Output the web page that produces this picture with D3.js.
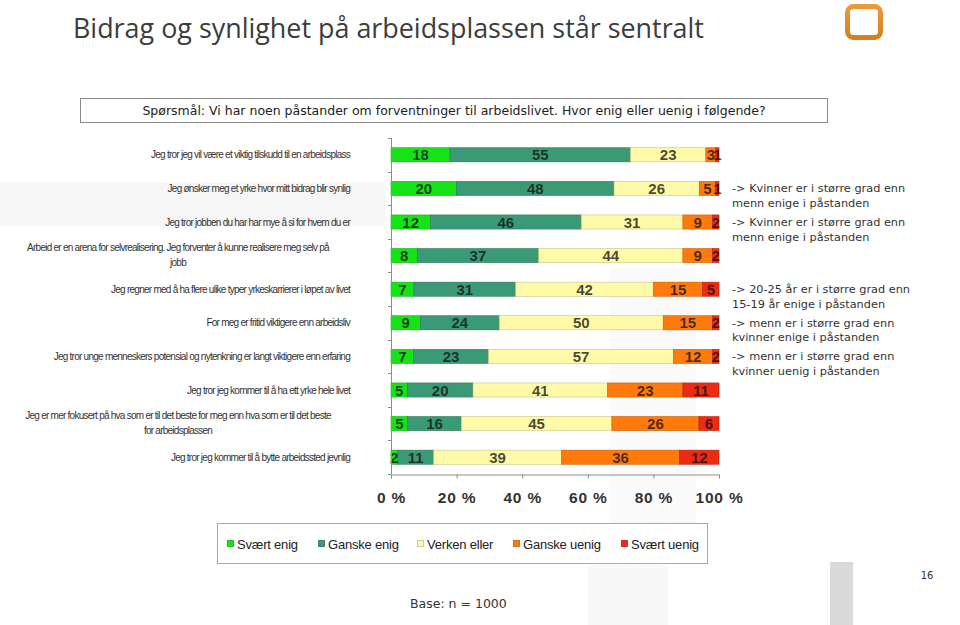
<!DOCTYPE html>
<html>
<head>
<meta charset="utf-8">
<script src="https://cdn.jsdelivr.net/npm/d3@7/dist/d3.min.js"></script>
<style>
  html, body { margin: 0; padding: 0; background: #fff; }
  svg { display: block; }
</style>
</head>
<body>
<svg id="chart" width="960" height="625"></svg>
<script>
// ---------- DATA ----------
const categories = [
  "Jeg tror jeg vil være et viktig tilskudd til en arbeidsplass",
  "Jeg ønsker meg et yrke hvor mitt bidrag blir synlig",
  "Jeg tror jobben du har har mye å si for hvem du er",
  "Arbeid er en arena for selvrealisering. Jeg forventer å kunne realisere meg selv på\njobb",
  "Jeg regner med å ha flere ulike typer yrkeskarrierer i løpet av livet",
  "For meg er fritid viktigere enn arbeidsliv",
  "Jeg tror unge menneskers potensial og nytenkning er langt viktigere enn erfaring",
  "Jeg tror jeg kommer til å ha ett yrke hele livet",
  "Jeg er mer fokusert på hva som er til det beste for meg enn hva som er til det beste\nfor arbeidsplassen",
  "Jeg tror jeg kommer til å bytte arbeidssted jevnlig"
];
const seriesNames = ["Svært enig", "Ganske enig", "Verken eller", "Ganske uenig", "Svært uenig"];
const svaertEnig  = [18, 20, 12,  8,  7,  9,  7,  5,  5,  2];
const ganskeEnig  = [55, 48, 46, 37, 31, 24, 23, 20, 16, 11];
const verkenEller = [23, 26, 31, 44, 42, 50, 57, 41, 45, 39];
const ganskeUenig = [ 3,  5,  9,  9, 15, 15, 12, 23, 26, 36];
const svaertUenig = [ 1,  1,  2,  2,  5,  2,  2, 11,  6, 12];
const xTickValues = [0, 20, 40, 60, 80, 100];
const annotations = [
  { row: 1, lines: ["-> Kvinner er i større grad enn", "menn enige i påstanden"] },
  { row: 2, lines: ["-> Kvinner er i større grad enn", "menn enige i påstanden"] },
  { row: 4, lines: ["-> 20-25 år er i større grad enn", "15-19 år enige i påstanden"] },
  { row: 5, lines: ["-> menn er i større grad enn", "kvinner enige i påstanden"] },
  { row: 6, lines: ["-> menn er i større grad enn", "kvinner uenig i påstanden"] }
];
const titleText = "Bidrag og synlighet på arbeidsplassen står sentralt";
const questionText = "Spørsmål: Vi har noen påstander om forventninger til arbeidslivet. Hvor enig eller uenig i følgende?";
const baseText = "Base: n = 1000";
const pageNumber = "16";

// ---------- STYLE ----------
const colors = ["#16e316", "#3a9a76", "#fffaa8", "#ff7a0a", "#ee2a12"];
const seriesData = [svaertEnig, ganskeEnig, verkenEller, ganskeUenig, svaertUenig];

const svg = d3.select("#chart");

// faint slide background shapes
svg.append("rect").attr("x", 0).attr("y", 182).attr("width", 385).attr("height", 44).attr("fill", "#f6f6f6");
svg.append("rect").attr("x", 610).attr("y", 268).attr("width", 86).attr("height", 295).attr("fill", "#fafafa");
svg.append("rect").attr("x", 588).attr("y", 565).attr("width", 80).attr("height", 60).attr("fill", "#f7f7f7");
svg.append("rect").attr("x", 830).attr("y", 562).attr("width", 23).attr("height", 63).attr("fill", "#dadada");

// title
svg.append("text")
  .attr("x", 73).attr("y", 38)
  .attr("font-family", "'Open Sans', 'DejaVu Sans', sans-serif")
  .attr("font-size", 26.9)
  .attr("fill", "#3c3c3c")
  .text(titleText);

// logo
const lg = svg.append("defs").append("linearGradient").attr("id", "logoGrad")
  .attr("x1", 0).attr("y1", 0).attr("x2", 0).attr("y2", 1);
lg.append("stop").attr("offset", "0%").attr("stop-color", "#e89a3c");
lg.append("stop").attr("offset", "100%").attr("stop-color", "#d57f22");
svg.append("rect")
  .attr("x", 847.5).attr("y", 6.5).attr("width", 33).attr("height", 31).attr("rx", 6)
  .attr("fill", "none").attr("stroke", "url(#logoGrad)").attr("stroke-width", 5);

// question box
svg.append("rect")
  .attr("x", 80.5).attr("y", 98.5).attr("width", 747).attr("height", 24)
  .attr("fill", "#fff").attr("stroke", "#8a8a8a").attr("stroke-width", 1);
svg.append("text")
  .attr("x", 454).attr("y", 115)
  .attr("text-anchor", "middle")
  .attr("font-family", "'DejaVu Sans', sans-serif")
  .attr("font-size", 12.5)
  .attr("fill", "#222")
  .text(questionText);

// ---------- CHART ----------
const x = d3.scaleLinear().domain([0, 100]).range([391, 719]);
const y = d3.scaleBand().domain(d3.range(categories.length)).range([138, 474]).paddingInner(0.58).paddingOuter(0.29);

const rows = categories.map((c, i) => {
  const vals = seriesData.map(s => s[i]);
  const total = d3.sum(vals);
  let acc = 0;
  return vals.map((v, k) => {
    const seg = { row: i, k, v, x0: acc / total * 100, x1: (acc + v) / total * 100 };
    acc += v;
    return seg;
  });
});

const g = svg.append("g");
rows.forEach(segs => {
  segs.forEach(s => {
    g.append("rect")
      .attr("x", x(s.x0))
      .attr("y", y(s.row))
      .attr("width", Math.max(0, x(s.x1) - x(s.x0)))
      .attr("height", y.bandwidth())
      .attr("fill", colors[s.k])
      .attr("stroke", d3.color(colors[s.k]).darker(0.7))
      .attr("stroke-width", 0.6);
  });
});
rows.forEach(segs => {
  segs.forEach(s => {
    g.append("text")
      .attr("x", (x(s.x0) + x(s.x1)) / 2)
      .attr("y", y(s.row) + y.bandwidth() / 2 + 5.5)
      .attr("text-anchor", "middle")
      .attr("font-family", "'Liberation Sans', Arial, sans-serif")
      .attr("font-weight", "bold")
      .attr("font-size", 15)
      .attr("fill", "rgba(20,20,20,0.78)")
      .text(s.v);
  });
});

// y axis line + ticks at band boundaries
const axisColor = "#8c8c8c";
svg.append("line").attr("x1", 391.5).attr("x2", 391.5).attr("y1", 138).attr("y2", 474)
  .attr("stroke", axisColor).attr("stroke-width", 1);
d3.range(categories.length + 1).forEach(i => {
  const yy = Math.round(138 + i * (474 - 138) / categories.length) + 0.5;
  svg.append("line").attr("x1", 388).attr("x2", 391.5).attr("y1", yy).attr("y2", yy)
    .attr("stroke", axisColor).attr("stroke-width", 1);
});

// x axis
const xAxis = d3.axisBottom(x).tickValues(xTickValues).tickSize(4).tickFormat(d => d + " %");
const xg = svg.append("g").attr("transform", "translate(0,474.5)").call(xAxis);
xg.select(".domain").attr("stroke", axisColor);
xg.selectAll(".tick line").attr("stroke", axisColor);
xg.selectAll(".tick text")
  .attr("y", 17)
  .attr("dy", "0.71em")
  .attr("font-family", "'Liberation Sans', Arial, sans-serif")
  .attr("font-weight", "bold")
  .attr("font-size", 15.5)
  .attr("letter-spacing", "0.8px")
  .attr("fill", "#333");

// category labels
categories.forEach((c, i) => {
  const lines = c.split("\n");
  const cy = y(i) + y.bandwidth() / 2;
  const t = svg.append("text")
    .attr("font-family", "'Liberation Sans', Arial, sans-serif")
    .attr("font-size", 10)
    .attr("letter-spacing", "-0.75px")
    .attr("fill", "#333");
  if (lines.length === 1) {
    t.attr("x", 350).attr("y", cy + 3.5).attr("text-anchor", "end").text(c);
  } else {
    t.attr("text-anchor", "middle");
    lines.forEach((l, j) => {
      t.append("tspan").attr("x", 178).attr("y", cy - 4.5 + j * 15).text(l);
    });
  }
});

// annotations
annotations.forEach(a => {
  const cy = y(a.row) + y.bandwidth() / 2;
  const t = svg.append("text")
    .attr("font-family", "'DejaVu Sans', sans-serif")
    .attr("font-size", 11.3)
    .attr("fill", "#333");
  a.lines.forEach((l, j) => {
    t.append("tspan").attr("x", 732).attr("y", cy + 4 + j * 14.5).text(l);
  });
});

// legend
svg.append("rect").attr("x", 217.5).attr("y", 523.5).attr("width", 490).attr("height", 40)
  .attr("fill", "#fff").attr("stroke", "#a8a8a8").attr("stroke-width", 1);
const legendX = [227, 318, 417, 513, 621];
seriesNames.forEach((n, k) => {
  svg.append("rect").attr("x", legendX[k] + 0.5).attr("y", 540.5).attr("width", 6).attr("height", 6)
    .attr("fill", colors[k]).attr("stroke", d3.color(colors[k]).darker(0.8)).attr("stroke-width", 0.8);
  svg.append("text").attr("x", legendX[k] + 10).attr("y", 548.5)
    .attr("font-family", "'Liberation Sans', Arial, sans-serif")
    .attr("font-size", 13)
    .attr("letter-spacing", "-0.2px")
    .attr("fill", "#222")
    .text(n);
});

// footer
svg.append("text").attr("x", 410).attr("y", 608)
  .attr("font-family", "'DejaVu Sans', sans-serif").attr("font-size", 12.5).attr("fill", "#333")
  .text(baseText);
svg.append("text").attr("x", 927).attr("y", 579).attr("text-anchor", "middle")
  .attr("font-family", "'DejaVu Sans', sans-serif").attr("font-size", 10).attr("fill", "#333")
  .text(pageNumber);
</script>
</body>
</html>
